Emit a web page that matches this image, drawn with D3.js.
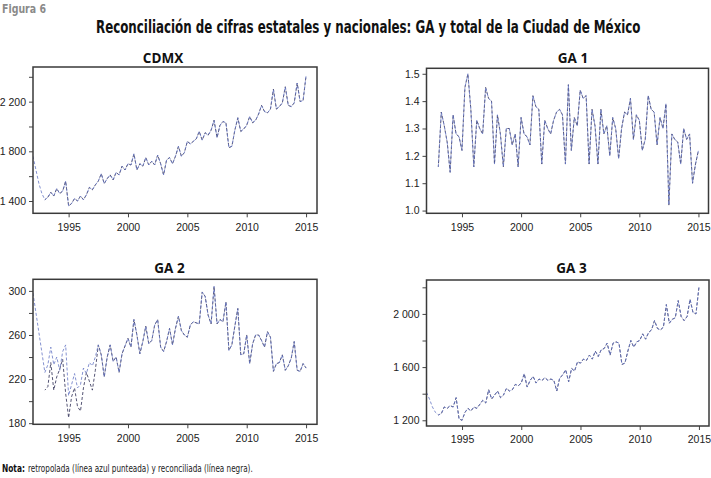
<!DOCTYPE html>
<html>
<head>
<meta charset="utf-8">
<script src="https://cdn.jsdelivr.net/npm/d3@7"></script>
<style>
  html, body { margin: 0; padding: 0; background: #fff; }
  svg { display: block; }
</style>
</head>
<body>
<svg id="chart" width="711" height="478"></svg>
<script>
// ---------------- DATA (quarterly) ----------------
const xTickYears = [1995, 2000, 2005, 2010, 2015];

// CDMX: retropolated from 1992Q1, reconciled from 1993Q1
const cdmxRetroStart = 1992;
const cdmxRetro = [1760,1650,1540,1460, 1410,1430,1470,1440, 1500,1460,1480,1560,
  1360,1380,1420,1400, 1440,1410,1450,1510, 1490,1530,1560,1620, 1540,1580,1610,1570,
  1630,1610,1680,1650, 1700,1690,1780,1650, 1700,1680,1750,1690, 1720,1690,1770,1700,
  1610,1730,1750,1700, 1760,1840,1760,1790, 1880,1860,1880,1900, 1960,1890,1950,1930,
  1970,2050,1910,2010, 2040,2030,1830,1840, 1970,2070,1960,1980, 2010,2080,2030,2050,
  2100,2170,2120,2110, 2140,2300,2140,2160, 2190,2320,2170,2160, 2190,2350,2200,2210, 2410];
const cdmxReconStart = 1993;
const cdmxRecon = cdmxRetro.slice(4);
const cdmxTicks = [1400, 1600, 1800, 2000, 2200, 2400];
const cdmxLabels = [1400, 1800, 2200];

// GA 1: from 1993Q1
const ga1RetroStart = 1993;
const ga1Retro = [1.16,1.36,1.31,1.25, 1.14,1.35,1.28,1.27, 1.22,1.45,1.50,1.37,
  1.16,1.33,1.30,1.28, 1.45,1.41,1.40,1.17, 1.35,1.28,1.16,1.30, 1.30,1.24,1.28,1.16,
  1.34,1.28,1.27,1.24, 1.42,1.38,1.37,1.17, 1.33,1.30,1.28,1.33, 1.36,1.37,1.35,1.17,
  1.46,1.22,1.34,1.31, 1.44,1.41,1.42,1.17, 1.37,1.31,1.17,1.37, 1.28,1.31,1.20,1.34,
  1.30,1.19,1.30,1.36, 1.35,1.41,1.26,1.35, 1.33,1.22,1.26,1.42, 1.37,1.36,1.24,1.34,
  1.30,1.39,1.02,1.28, 1.26,1.25,1.17,1.30, 1.26,1.28,1.10,1.17, 1.22];
const ga1ReconStart = 1993;
const ga1Recon = ga1Retro;
const ga1Ticks = [1.0, 1.1, 1.2, 1.3, 1.4, 1.5];
const ga1Labels = [1.0, 1.1, 1.2, 1.3, 1.4, 1.5];

// GA 2: retropolated from 1992Q1, reconciled from 1993Q1 (differs until 1997)
const ga2RetroStart = 1992;
const ga2Retro = [298,280,262,244, 226,233,249,233, 240,228,245,251,
  205,215,225,212, 215,230,225,235, 232,240,251,242, 222,240,251,236,
  240,226,243,250, 257,249,274,260, 243,254,268,252, 255,269,274,249,
  245,254,266,251, 266,277,264,260, 258,269,272,271, 270,299,295,278,
  270,304,270,274, 272,290,246,251, 268,284,242,243, 260,234,252,260,
  260,255,249,263, 258,227,234,235, 242,228,232,239, 254,228,227,234, 230];
const ga2ReconStart = 1993;
const ga2Recon = [210,213,235,210, 222,229,238,207, 185,204,212,195, 191,212,226,218,
  210,228,251,242, 222,240,251,236,
  240,226,243,250, 257,249,274,260, 243,254,268,252, 255,269,274,249,
  245,254,266,251, 266,277,264,260, 258,269,272,271, 270,299,295,278,
  270,304,270,274, 272,290,246,251, 268,284,242,243, 260,234,252,260,
  260,255,249,263, 258,227,234,235, 242,228,232,239, 254,228,227,234, 230];
const ga2Ticks = [180, 200, 220, 240, 260, 280, 300];
const ga2Labels = [180, 220, 260, 300];

// GA 3: retropolated from 1992Q1, reconciled from 1993Q1
const ga3RetroStart = 1992;
const ga3Retro = [1410,1360,1300,1260, 1240,1250,1300,1290, 1310,1300,1370,1210,
  1200,1260,1290,1270, 1300,1290,1320,1350, 1330,1430,1360,1390, 1420,1370,1390,1440,
  1420,1430,1470,1460, 1480,1550,1450,1500, 1530,1480,1510,1500, 1520,1500,1510,1500,
  1420,1520,1540,1580, 1490,1590,1570,1640, 1630,1660,1650,1690, 1660,1720,1680,1730,
  1740,1780,1690,1780, 1790,1780,1620,1630, 1720,1800,1750,1790, 1800,1850,1810,1860,
  1880,1950,1890,1880, 1900,2070,1930,1960, 1970,2100,1980,1950, 1980,2110,2010,2000, 2200];
const ga3ReconStart = 1993;
const ga3Recon = ga3Retro.slice(4);
const ga3Ticks = [1200, 1400, 1600, 1800, 2000, 2200];
const ga3Labels = [1200, 1600, 2000];

// ---------------- LAYOUT ----------------
const panels = [
  { title: "CDMX", retro: cdmxRetro, rs: cdmxRetroStart, recon: cdmxRecon, cs: cdmxReconStart,
    ticks: cdmxTicks, labels: cdmxLabels, yDom: [1301, 2479], fmt: "int",
    left: 33, right: 317, top: 67, bottom: 213.3, xDom: [1992, 2015.92], tx: 163, ty: 62.5 },
  { title: "GA 1", retro: ga1Retro, rs: ga1RetroStart, recon: ga1Recon, cs: ga1ReconStart,
    ticks: ga1Ticks, labels: ga1Labels, yDom: [0.99, 1.52], fmt: "dec",
    left: 426.5, right: 708.5, top: 68.3, bottom: 213.3, xDom: [1992, 2015.85], tx: 573, ty: 63 },
  { title: "GA 2", retro: ga2Retro, rs: ga2RetroStart, recon: ga2Recon, cs: ga2ReconStart,
    ticks: ga2Ticks, labels: ga2Labels, yDom: [179, 310.5], fmt: "int",
    left: 33, right: 317, top: 279.3, bottom: 424.3, xDom: [1992, 2015.92], tx: 169.5, ty: 273 },
  { title: "GA 3", retro: ga3Retro, rs: ga3RetroStart, recon: ga3Recon, cs: ga3ReconStart,
    ticks: ga3Ticks, labels: ga3Labels, yDom: [1157, 2255], fmt: "int",
    left: 426.5, right: 709, top: 280, bottom: 426, xDom: [1992, 2015.85], tx: 571.5, ty: 273 }
];

const svg = d3.select("#chart");
const tickFont = "'Liberation Sans', Arial, sans-serif";
const condFont = "'Liberation Sans Narrow','DejaVu Sans Condensed',sans-serif";

// place a text at (x, y) and squeeze it horizontally to a target width
function squeezed(str, x, y, size, width, weight, fill) {
  const t = svg.append("text").attr("x", 0).attr("y", 0)
    .attr("font-family", condFont).attr("font-weight", weight)
    .attr("font-size", size).attr("fill", fill).text(str);
  const w = t.node().getComputedTextLength();
  const s = Math.min(1, width / w);
  t.attr("transform", `translate(${x},${y}) scale(${s},1)`);
  return t;
}

// Header and note
squeezed("Figura 6", 2, 13, 12, 44, "bold", "#8a8a8a");
squeezed("Reconciliación de cifras estatales y nacionales: GA y total de la Ciudad de México",
  96, 33, 18, 545, "bold", "#111");
squeezed("Nota:", 2, 472, 10.5, 23, "bold", "#111");
squeezed("retropolada (línea azul punteada) y reconciliada (línea negra).", 28, 472, 10.5, 225, "normal", "#222");

const intFmt = d => d3.format(",")(d).replace(/,/g, " ");
const decFmt = d3.format(".1f");

panels.forEach(p => {
  const x = d3.scaleLinear().domain(p.xDom).range([p.left, p.right]);
  const y = d3.scaleLinear().domain(p.yDom).range([p.bottom, p.top]);
  const g = svg.append("g");
  const f = p.fmt === "int" ? intFmt : decFmt;

  const ya = g.append("g").attr("transform", `translate(${p.left},0)`)
    .call(d3.axisLeft(y).tickValues(p.ticks).tickSize(4).tickPadding(3)
      .tickFormat(d => p.labels.some(l => Math.abs(l - d) < 1e-9) ? f(d) : ""));
  const xa = g.append("g").attr("transform", `translate(0,${p.bottom})`)
    .call(d3.axisBottom(x).tickValues(xTickYears).tickSize(4).tickPadding(6)
      .tickFormat(d3.format("d")));
  [ya, xa].forEach(a => {
    a.select(".domain").remove();
    a.selectAll(".tick line").attr("stroke", "#444");
    a.selectAll(".tick text").attr("font-family", tickFont).attr("font-size", 10.5).attr("fill", "#222");
  });

  const cid = "clip" + p.title.replace(/\s/g, "");
  svg.append("clipPath").attr("id", cid).append("rect")
    .attr("x", p.left).attr("y", p.top).attr("width", p.right - p.left).attr("height", p.bottom - p.top);

  const line = start => d3.line().x((d, i) => x(start + i / 4)).y(d => y(d));
  const lg = g.append("g").attr("clip-path", `url(#${cid})`);

  lg.append("path").datum(p.recon).attr("d", line(p.cs))
    .attr("fill", "none").attr("stroke", "#2a2a52").attr("stroke-width", 0.8)
    .attr("stroke-dasharray", "3,2").attr("stroke-dashoffset", 1.5);
  lg.append("path").datum(p.retro).attr("d", line(p.rs))
    .attr("fill", "none").attr("stroke", "#6676c4").attr("stroke-width", 0.8)
    .attr("stroke-dasharray", "3,2");

  g.append("rect").attr("x", p.left).attr("y", p.top)
    .attr("width", p.right - p.left).attr("height", p.bottom - p.top)
    .attr("fill", "none").attr("stroke", "#3a3a3a").attr("stroke-width", 1.5);

  g.append("text").attr("x", p.tx).attr("y", p.ty).attr("text-anchor", "middle")
    .attr("font-family", "'Open Sans','Noto Sans',sans-serif").attr("font-weight", "bold")
    .attr("font-size", 13.5).attr("fill", "#111").text(p.title);
});
</script>
</body>
</html>
